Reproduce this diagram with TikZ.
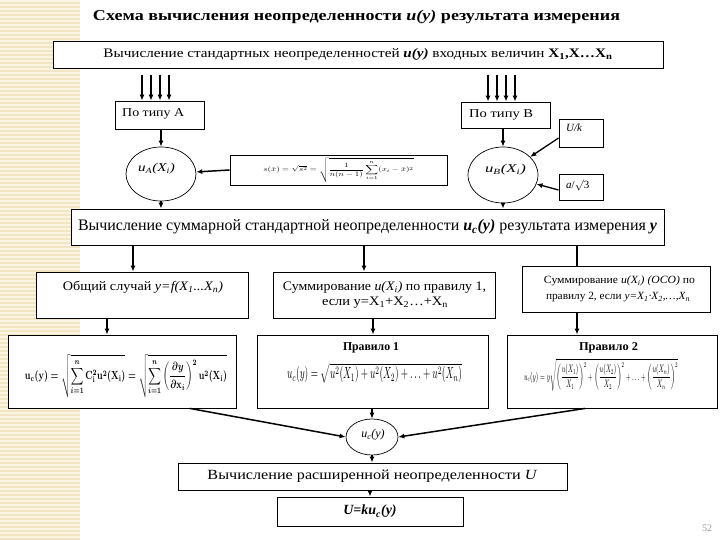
\documentclass[tikz,border=0pt]{standalone}
\usepackage{fontspec}
\setmainfont{Liberation Serif}
\usepackage{amsmath}
\usepackage{graphicx}
\usetikzlibrary{arrows.meta,shapes.geometric,calc}
\newcommand{\fitw}[2]{\resizebox{#1}{\height}{#2}}
\newcommand{\fitwh}[3]{\resizebox*{#1}{#2}{#3}}
\definecolor{stripbase}{RGB}{241,230,196}
\definecolor{stripline}{RGB}{250,244,224}
\begin{document}
\begin{tikzpicture}[x=1pt,y=-1pt,
  box/.style={draw=black,line width=0.9pt,rectangle,inner sep=0pt,fill=white},
  oval/.style={draw=black,line width=0.7pt,ellipse,inner sep=0pt,fill=white},
  txt/.style={inner sep=0pt,text=black},
  arr/.style={line width=1.5pt,-{Latex[length=6pt,width=5pt]}},
  ln/.style={line width=1.5pt}]
\useasboundingbox (0,0) rectangle (720,540);
% decorative strip
\fill[stripbase] (0,0) rectangle (80,540);
\foreach \yy in {1,5,...,540} \draw[stripline,line width=1.4pt] (0,\yy) -- (80,\yy);

% title
\node[txt] (title) at (356.5,17) {\fontsize{15}{17}\selectfont\bfseries\fitw{527pt}{Схема вычисления неопределенности \textit{u(y)} результата измерения}};

% top box
\node[box,minimum width=610pt,minimum height=27pt] (top) at (358,54.5) {\fontsize{13}{15}\selectfont\fitw{509pt}{Вычисление стандартных неопределенностей \textbf{\textit{u(y)}} входных величин \textbf{X\textsubscript{1},X…X\textsubscript{n}}}};

% type boxes
\node[box,minimum width=89pt,minimum height=28pt] (A) at (159.5,115) {};
\node[txt,anchor=west] (tA) at (122,114) {\fontsize{12}{14}\selectfont\fitw{62pt}{По типу А}};
\node[box,minimum width=89pt,minimum height=26pt] (B) at (505.5,115) {};
\node[txt,anchor=west] (tB) at (469,115) {\fontsize{12}{14}\selectfont\fitw{64pt}{По типу В}};

% input arrows
\foreach \xx/\nm in {142/a1,151/a2,160/a3,169/a4} {\coordinate (\nm) at (\xx,75); \draw[arr] (\nm) -- (\nm |- A.north);}
\foreach \xx/\nm in {488/b1,497/b2,506/b3,515/b4} {\coordinate (\nm) at (\xx,75); \draw[arr] (\nm) -- (\nm |- B.north);}

% ellipses
\node[oval,minimum width=70pt,minimum height=54pt] (uA) at (161,174) {};
\node[txt] (tuA) at (156.5,169) {\fontsize{12}{14}\selectfont\fitw{37pt}{\textit{u\textsubscript{A}(X\textsubscript{i})}}};
\node[oval,minimum width=70pt,minimum height=56pt] (uB) at (503,175) {};
\node[txt] (tuB) at (505.5,170) {\fontsize{12}{14}\selectfont\fitw{41pt}{\textit{u\textsubscript{B}(X\textsubscript{i})}}};

% formula box
\node[box,minimum width=217pt,minimum height=30pt] (fs) at (338.5,170) {\fitwh{150pt}{24pt}{$\displaystyle s(\bar{x})=\sqrt{s^2}=\sqrt{\frac{1}{n(n-1)}\sum_{i=1}^{n}(x_i-\bar{x})^2}$}};

% U/k and a/sqrt3
\node[box,minimum width=44pt,minimum height=28pt] (uk) at (581,133) {};
\node[txt,anchor=west] (tuk) at (566,128) {\fontsize{11}{13}\selectfont\textit{U/k}};
\node[box,minimum width=44pt,minimum height=26pt] (a3b) at (581,187) {};
\node[txt,anchor=west] (ta3) at (566,186) {\fontsize{11}{13}\selectfont\textit{a}/$\surd$3};

\draw[arr] (A.south -| uA.north) -- (uA.north);
\draw[arr] (B.south -| uB.north) -- (uB.north);
\draw[arr] (fs.west) -- (uA);
\draw[line width=1.3pt,-{Latex[length=6pt,width=5pt]}] ([yshift=-5pt]uk.west) -- (uB);
\draw[line width=1.3pt,-{Latex[length=6pt,width=5pt]}] ([yshift=-3pt]a3b.west) -- (uB);

% main box
\node[box,minimum width=593pt,minimum height=36pt] (main) at (367.5,227) {\fontsize{16}{18}\selectfont\fitw{579pt}{Вычисление суммарной стандартной неопределенности \textbf{\textit{u\textsubscript{c}(y)}} результата измерения \textbf{\textit{y}}}};
\draw[arr] (uA.south) -- (uA.south |- main.north);
\draw[arr] (uB.south) -- (uB.south |- main.north);

% row 3
\node[box,minimum width=212pt,minimum height=46pt] (r1) at (142,295) {};
\node[txt] (tr1) at (143,287) {\fontsize{13}{15}\selectfont\fitw{160pt}{Общий случай \textit{y=f(X\textsubscript{1}...X\textsubscript{n})}}};
\node[box,minimum width=222pt,minimum height=46pt] (r2) at (384,295) {};
\node[txt] (tr2a) at (384.5,287) {\fontsize{13}{15}\selectfont\fitw{203pt}{Суммирование \textit{u(X\textsubscript{i})} по правилу 1,}};
\node[txt] (tr2b) at (385,303) {\fontsize{13}{15}\selectfont\fitw{126pt}{если y=X\textsubscript{1}+X\textsubscript{2}…+X\textsubscript{n}}};
\node[box,minimum width=188pt,minimum height=46pt] (r3) at (616,289) {};
\node[txt] (tr3a) at (619.5,281) {\fontsize{11}{13}\selectfont\fitw{151pt}{Суммирование \textit{u(X\textsubscript{i}) (ОСО)} по}};
\node[txt] (tr3b) at (618,297) {\fontsize{11}{13}\selectfont\fitw{144pt}{правилу 2, если \textit{y=X\textsubscript{1}·X\textsubscript{2},…,X\textsubscript{n}}}};

\coordinate (x1) at (133,0);
\coordinate (x2) at (364,0);
\coordinate (x3) at (577,0);
\draw[arr] (main.south -| x1) -- (r1.north -| x1);
\draw[arr] (main.south -| x2) -- (r2.north -| x2);
\draw[ln] (main.south -| x3) -- (r3.north -| x3);

% row 4
\node[box,minimum width=228pt,minimum height=73pt] (f1) at (122,371.5) {};
\node[txt] (tf1) at (126,376) {\fitwh{202pt}{43pt}{\boldmath$\displaystyle \mathbf{u_c(y)}=\sqrt{\sum_{i=1}^{n}\mathbf{C_i^2u^2(X_i)}}=\sqrt{\sum_{i=1}^{n}\left(\frac{\partial y}{\partial \mathbf{x}_i}\right)^{2}\mathbf{u^2(X_i)}}$}};
\node[box,minimum width=231pt,minimum height=73pt] (p1) at (372.5,371.5) {};
\node[txt] (tp1) at (371,348) {\fontsize{12}{14}\selectfont\bfseries\fitw{56pt}{Правило 1}};
\node[txt] (fp1) at (374.5,373) {\fitwh{175pt}{20pt}{$\displaystyle u_c(y)=\sqrt{u^2(X_1)+u^2(X_2)+\ldots+u^2(X_n)}$}};
\node[box,minimum width=210pt,minimum height=73pt] (p2) at (612,371.5) {};
\node[txt] (tp2) at (608.5,348) {\fontsize{12}{14}\selectfont\bfseries\fitw{59pt}{Правило 2}};
\node[txt] (fp2) at (601,375) {\fitwh{154pt}{33pt}{$\displaystyle u_c(y)=y\sqrt{\left(\frac{u(X_1)}{X_1}\right)^{2}+\left(\frac{u(X_2)}{X_2}\right)^{2}+\ldots+\left(\frac{u(X_n)}{X_n}\right)^{2}}$}};

\coordinate (x4) at (107,0);
\coordinate (x5) at (373,0);
\draw[arr] (r1.south -| x4) -- (f1.north -| x4);
\draw[arr] (r2.south -| x5) -- (p1.north -| x5);
\draw[arr] (r3.south -| x3) -- (p2.north -| x3);

% uc ellipse
\node[oval,minimum width=52pt,minimum height=36pt] (uc) at (372,437) {};
\node[txt] (tuc) at (373,435) {\fontsize{12}{14}\selectfont\textit{u\textsubscript{c}(y)}};
\draw[arr] ([xshift=68pt]f1.south) -- (uc.west);
\draw[arr] ([xshift=-27pt]p2.south) -- (uc.east);
\draw[arr] (p1.south -| uc.north) -- (uc.north);

% bottom boxes
\node[box,minimum width=389pt,minimum height=27pt] (ext) at (372.5,476.5) {\fontsize{14}{16}\selectfont\fitw{330pt}{Вычисление расширенной неопределенности \textit{U}}};
\node[box,minimum width=186pt,minimum height=29pt] (ub) at (370,511.5) {\fontsize{14}{16}\selectfont\bfseries\itshape U=ku\textsubscript{c}(y)};
\draw[arr] (uc.south) -- (uc.south |- ext.north);
\draw[arr] (ext.south -| ub.north) -- (ub.north);

\node[txt,text=black!40] (pg) at (707,528) {\fontsize{10}{12}\selectfont 52};
\end{tikzpicture}
\end{document}
